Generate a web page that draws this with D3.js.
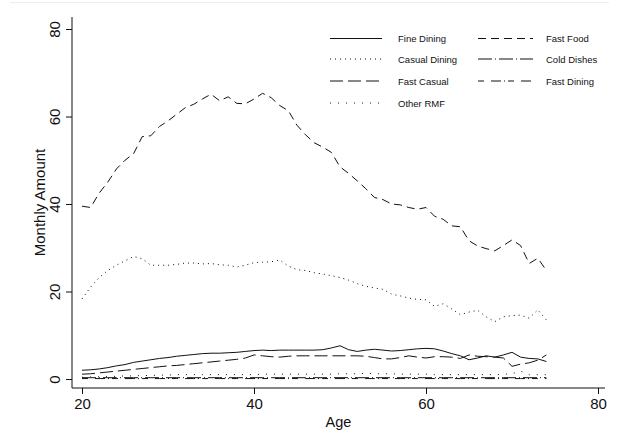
<!DOCTYPE html>
<html>
<head>
<meta charset="utf-8">
<script src="https://cdn.jsdelivr.net/npm/d3@7"></script>
<style>
  body { margin: 0; background: #fff; }
  svg { font-family: Arial, "Liberation Sans", sans-serif; }
</style>
</head>
<body>
<div id="chart"></div>
<script>
const ages = d3.range(20, 75);

const fineDining = [2.0, 2.1, 2.3, 2.6, 3.0, 3.3, 3.8, 4.1, 4.4, 4.7,
  4.9, 5.2, 5.4, 5.6, 5.8, 5.9, 5.9, 6.0, 6.1, 6.3,
  6.5, 6.6, 6.5, 6.6, 6.6, 6.6, 6.6, 6.6, 6.7, 7.1,
  7.6, 6.7, 6.3, 6.6, 6.8, 6.6, 6.4, 6.5, 6.7, 6.9,
  7.0, 6.9, 6.4, 5.8, 5.3, 4.4, 4.8, 5.3, 5.0, 5.5,
  6.1, 5.0, 4.7, 4.6, 4.0];
const fastFood = [39.5, 39.2, 42.5, 45, 48, 50, 51.5, 55.4, 55.6, 57.7,
  59, 60.5, 62, 62.8, 64, 65.1, 63.6, 64.5, 63, 62.9,
  64, 65.3, 64.3, 62.5, 61.3, 58, 55.8, 54, 53, 51.8,
  48.5, 47, 45.3, 43.5, 41.5, 41, 40, 39.8, 39.2, 38.8,
  39.2, 37.2, 36.5, 35, 34.8, 31.6, 30.4, 29.8, 29.3, 30.5,
  31.8, 30.5, 26.4, 27.6, 24.8];
const casualDining = [18.3, 21, 23.2, 24.8, 26, 27, 28, 27.5, 26, 26,
  26, 26.2, 26.5, 26.5, 26.3, 26.4, 26.1, 26, 25.6, 26,
  26.6, 26.7, 26.8, 27.2, 25.8, 25, 24.8, 24.3, 24, 23.6,
  23.2, 22.6, 21.8, 21.2, 20.8, 20.5, 19.4, 19, 18.5, 18.2,
  18.1, 16.6, 17.2, 16, 14.7, 15.3, 15.7, 14.2, 13.1, 14.2,
  14.5, 14.6, 13.9, 15.8, 13.5];
const coldDishes = [0.3, 0.3, 0.3, 0.3, 0.3, 0.3, 0.3, 0.3, 0.3, 0.3,
  0.3, 0.3, 0.3, 0.3, 0.3, 0.3, 0.3, 0.3, 0.3, 0.3,
  0.3, 0.3, 0.3, 0.3, 0.3, 0.3, 0.3, 0.3, 0.3, 0.3,
  0.3, 0.3, 0.3, 0.3, 0.3, 0.3, 0.3, 0.3, 0.3, 0.3,
  0.3, 0.3, 0.3, 0.3, 0.3, 0.3, 0.3, 0.3, 0.3, 0.3,
  0.3, 0.3, 0.3, 0.3, 0.3];
const fastCasual = [1.1, 1.2, 1.4, 1.6, 1.8, 2.0, 2.2, 2.4, 2.6, 2.8,
  3.0, 3.1, 3.3, 3.5, 3.7, 3.9, 4.1, 4.3, 4.5, 4.8,
  5.5, 5.3, 5.1, 5.0, 5.2, 5.3, 5.3, 5.3, 5.3, 5.3,
  5.3, 5.3, 5.3, 5.2, 4.9, 4.6, 4.6, 4.9, 5.3, 5.0,
  4.8, 5.1, 5.1, 5.0, 4.7, 5.5, 5.2, 5.1, 5.0, 4.8,
  2.9, 3.4, 3.7, 4.3, 5.5];
const fastDining = [0.1, 0.1, 0.1, 0.1, 0.1, 0.1, 0.1, 0.1, 0.1, 0.1,
  0.1, 0.1, 0.1, 0.1, 0.1, 0.1, 0.1, 0.1, 0.1, 0.1,
  0.1, 0.1, 0.1, 0.1, 0.1, 0.1, 0.1, 0.1, 0.1, 0.1,
  0.1, 0.1, 0.1, 0.1, 0.1, 0.1, 0.1, 0.1, 0.1, 0.1,
  0.1, 0.1, 0.1, 0.1, 0.1, 0.1, 0.1, 0.1, 0.1, 0.1,
  0.1, 0.1, 0.1, 0.1, 0.1];
const otherRMF = [0.4, 0.5, 0.5, 0.6, 0.6, 0.7, 0.7, 0.8, 0.8, 0.9,
  0.9, 1.0, 1.0, 1.0, 1.0, 1.0, 1.0, 1.0, 1.0, 1.0,
  1.0, 1.1, 1.1, 1.1, 1.1, 1.1, 1.1, 1.1, 1.1, 1.1,
  1.2, 1.2, 1.2, 1.3, 1.2, 1.2, 1.2, 1.1, 1.1, 1.1,
  1.1, 1.0, 1.0, 1.0, 1.0, 1.0, 1.0, 1.0, 1.0, 1.1,
  1.2, 1.8, 1.0, 1.0, 1.0];

const xTicks = [20, 40, 60, 80];
const yTicks = [0, 20, 40, 60, 80];

const series = [
  {name: 'Fine Dining', values: fineDining, dash: null},
  {name: 'Fast Food', values: fastFood, dash: '8,5'},
  {name: 'Casual Dining', values: casualDining, dash: '1,4'},
  {name: 'Cold Dishes', values: coldDishes, dash: '14,3,1,3'},
  {name: 'Fast Casual', values: fastCasual, dash: '13,5'},
  {name: 'Fast Dining', values: fastDining, dash: '6,7,10,3,1,3'},
  {name: 'Other RMF', values: otherRMF, dash: '1,7'}
];

const width = 619, height = 439;
const plot = {left: 72, right: 605, top: 17, bottom: 388};

const x = d3.scaleLinear().domain([20, 80]).range([82, 598]);
const y = d3.scaleLinear().domain([0, 80]).range([379, 29]);

const svg = d3.select('#chart').append('svg')
  .attr('width', width)
  .attr('height', height);

// faint frame line at the top, as in the exported graph
svg.append('line')
  .attr('x1', 10).attr('x2', width - 10)
  .attr('y1', 2.5).attr('y2', 2.5)
  .attr('stroke', '#eee');

// axes
const xAxis = svg.append('g')
  .attr('transform', 'translate(0,' + plot.bottom + ')')
  .call(d3.axisBottom(x).tickValues(xTicks).tickSize(6).tickSizeOuter(0).tickPadding(4));
xAxis.select('.domain').remove();
xAxis.selectAll('text').attr('font-size', 15).attr('fill', '#111');
xAxis.selectAll('line').attr('stroke', '#111');

const yAxis = svg.append('g')
  .attr('transform', 'translate(' + plot.left + ',0)')
  .call(d3.axisLeft(y).tickValues(yTicks).tickSize(6).tickSizeOuter(0));
yAxis.select('.domain').remove();
yAxis.selectAll('line').attr('stroke', '#111');
yAxis.selectAll('text')
  .attr('font-size', 15).attr('fill', '#111')
  .attr('x', 0).attr('dy', 0)
  .attr('text-anchor', 'middle')
  .attr('transform', 'translate(-12,0) rotate(-90)');

svg.append('line')
  .attr('x1', plot.left).attr('x2', plot.right)
  .attr('y1', plot.bottom).attr('y2', plot.bottom)
  .attr('stroke', '#111');
svg.append('line')
  .attr('x1', plot.left).attr('x2', plot.left)
  .attr('y1', plot.top).attr('y2', plot.bottom)
  .attr('stroke', '#111');

svg.append('text')
  .attr('x', (plot.left + plot.right) / 2)
  .attr('y', 427)
  .attr('text-anchor', 'middle')
  .attr('font-size', 14.5)
  .attr('fill', '#111')
  .text('Age');

svg.append('text')
  .attr('transform', 'translate(45,' + (plot.top + plot.bottom) / 2 + ') rotate(-90)')
  .attr('text-anchor', 'middle')
  .attr('font-size', 15)
  .attr('fill', '#111')
  .text('Monthly Amount');

// lines
const line = d3.line()
  .x((d, i) => x(ages[i]))
  .y(d => y(d));

svg.selectAll('.series')
  .data(series)
  .enter().append('path')
    .attr('class', 'series')
    .attr('d', d => line(d.values))
    .attr('fill', 'none')
    .attr('stroke', '#111')
    .attr('stroke-width', 1)
    .attr('stroke-dasharray', d => d.dash);

// legend
const legRows = [38.5, 59, 81, 103];
const legend = svg.selectAll('.legend')
  .data(series)
  .enter().append('g')
    .attr('class', 'legend')
    .attr('transform', (d, i) => {
      const col = i % 2, row = Math.floor(i / 2);
      return 'translate(' + (col ? 478 : 330) + ',' + legRows[row] + ')';
    });

legend.append('line')
  .attr('x1', 0)
  .attr('x2', (d, i) => i % 2 ? 55 : 52)
  .attr('y1', 0).attr('y2', 0)
  .attr('stroke', '#111')
  .attr('stroke-width', 1)
  .attr('stroke-dasharray', d => d.dash);

legend.append('text')
  .attr('x', 68)
  .attr('y', 3.5)
  .attr('font-size', 9.5)
  .attr('fill', '#111')
  .text(d => d.name);
</script>
</body>
</html>
